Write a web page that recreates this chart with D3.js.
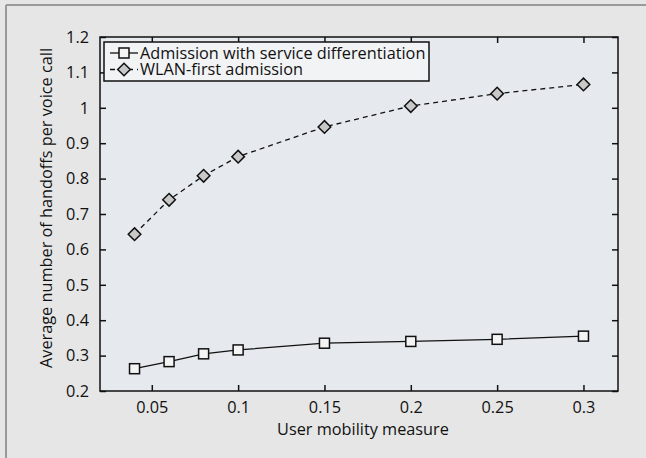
<!DOCTYPE html>
<html><head><meta charset="utf-8">
<script src="https://cdn.jsdelivr.net/npm/d3@7"></script>
<style>
html,body{margin:0;padding:0;background:#e6e6e6;}
svg{display:block;font-family:"Open Sans",sans-serif;}
</style></head>
<body>
<svg id="chart" width="646" height="458"></svg>
<script>
const xValues = [0.04, 0.06, 0.08, 0.1, 0.15, 0.2, 0.25, 0.3];
const serviceDiff = [0.263, 0.283, 0.305, 0.316, 0.335, 0.34, 0.346, 0.355];
const wlanFirst = [0.643, 0.74, 0.808, 0.862, 0.946, 1.005, 1.04, 1.066];
const xTicks = [0.05, 0.1, 0.15, 0.2, 0.25, 0.3];
const yTicks = [0.2, 0.3, 0.4, 0.5, 0.6, 0.7, 0.8, 0.9, 1, 1.1, 1.2];
const seriesNames = ["Admission with service differentiation", "WLAN-first admission"];

const svg = d3.select("#chart");
const W = 646, H = 458;
const m = {left: 100, right: 618, top: 37, bottom: 391};
const FS = 16.3;

// outer frame
svg.append("rect").attr("x",0).attr("y",0).attr("width",W).attr("height",H).attr("fill","#e6e6e6");
svg.append("line").attr("x1",6).attr("x2",W).attr("y1",5).attr("y2",5).attr("stroke","#999").attr("stroke-width",2);
svg.append("line").attr("x1",6).attr("x2",6).attr("y1",5).attr("y2",H).attr("stroke","#999").attr("stroke-width",2);

const x = d3.scaleLinear().domain([0.02, 0.32]).range([m.left, m.right]);
const y = d3.scaleLinear().domain([0.2, 1.2]).range([m.bottom, m.top]);

svg.append("rect").attr("x",m.left).attr("y",m.top)
  .attr("width",m.right-m.left).attr("height",m.bottom-m.top)
  .attr("fill","#e6eaee");

const fmt = d => String(+d.toFixed(2));
const tickLen = 6;

// axes with inward ticks
const gx = svg.append("g").attr("transform",`translate(0,${m.bottom})`)
  .call(d3.axisBottom(x).tickValues(xTicks).tickSize(-tickLen).tickPadding(10).tickFormat(fmt));
const gxt = svg.append("g").attr("transform",`translate(0,${m.top})`)
  .call(d3.axisTop(x).tickValues(xTicks).tickSize(-tickLen).tickFormat(""));
const gy = svg.append("g").attr("transform",`translate(${m.left},0)`)
  .call(d3.axisLeft(y).tickValues(yTicks).tickSize(-tickLen).tickPadding(11).tickFormat(fmt));
const gyr = svg.append("g").attr("transform",`translate(${m.right},0)`)
  .call(d3.axisRight(y).tickValues(yTicks).tickSize(-tickLen).tickFormat(""));
[gx,gxt,gy,gyr].forEach(g=>{
  g.select(".domain").remove();
  g.selectAll(".tick line").attr("stroke","#111").attr("stroke-width",1.5);
  g.selectAll("text").attr("font-family","Open Sans, sans-serif").attr("font-size",FS).attr("fill","#111");
});
gx.selectAll("text").attr("dy","0.71em");
svg.append("rect").attr("x",m.left).attr("y",m.top)
  .attr("width",m.right-m.left).attr("height",m.bottom-m.top)
  .attr("fill","none").attr("stroke","#111").attr("stroke-width",1.5);

// axis titles
svg.append("text").attr("x",(m.left+m.right)/2 + 4).attr("y",429).attr("dy","0.35em")
  .attr("text-anchor","middle").attr("font-size",FS).attr("fill","#111").text("User mobility measure");
svg.append("text").attr("transform",`translate(46,${(m.top+m.bottom)/2 - 6}) rotate(-90)`)
  .attr("dy","0.35em").attr("text-anchor","middle").attr("font-size",FS).attr("fill","#111")
  .text("Average number of handoffs per voice call");

// lines
const line = d3.line().x((d,i)=>x(xValues[i])).y(d=>y(d));
svg.append("path").datum(serviceDiff).attr("d",line).attr("fill","none").attr("stroke","#111").attr("stroke-width",1.3);
svg.append("path").datum(wlanFirst).attr("d",line).attr("fill","none").attr("stroke","#111").attr("stroke-width",1.3).attr("stroke-dasharray","5,4");

const sq = 10, dm = 6.3;
function square(g, cx, cy){
  g.append("rect").attr("x",cx-sq/2).attr("y",cy-sq/2).attr("width",sq).attr("height",sq)
    .attr("fill","#f4f4f4").attr("stroke","#111").attr("stroke-width",1.5);
}
function diamond(g, cx, cy){
  g.append("path").attr("d",`M${cx},${cy-dm}L${cx+dm},${cy}L${cx},${cy+dm}L${cx-dm},${cy}Z`)
    .attr("fill","#c8c8c8").attr("stroke","#111").attr("stroke-width",1.5);
}
const mk = svg.append("g");
serviceDiff.forEach((v,i)=>square(mk, x(xValues[i]), y(v)));
wlanFirst.forEach((v,i)=>diamond(mk, x(xValues[i]), y(v)));

// legend
const lg = svg.append("g");
lg.append("rect").attr("x",104).attr("y",42).attr("width",325).attr("height",39)
  .attr("fill","#f2f3f5").attr("stroke","#111").attr("stroke-width",1.5);
const rows = [53, 69.5];
lg.append("line").attr("x1",110).attr("x2",138).attr("y1",rows[0]).attr("y2",rows[0]).attr("stroke","#111").attr("stroke-width",1.3);
square(lg,124,rows[0]);
lg.append("line").attr("x1",110).attr("x2",138).attr("y1",rows[1]).attr("y2",rows[1]).attr("stroke","#111").attr("stroke-width",1.3).attr("stroke-dasharray","5,4");
diamond(lg,124,rows[1]);
seriesNames.forEach((n,i)=>{
  lg.append("text").attr("x",140).attr("y",rows[i]).attr("dy","0.35em")
    .attr("font-size",FS).attr("fill","#111").text(n);
});
</script>
</body></html>
